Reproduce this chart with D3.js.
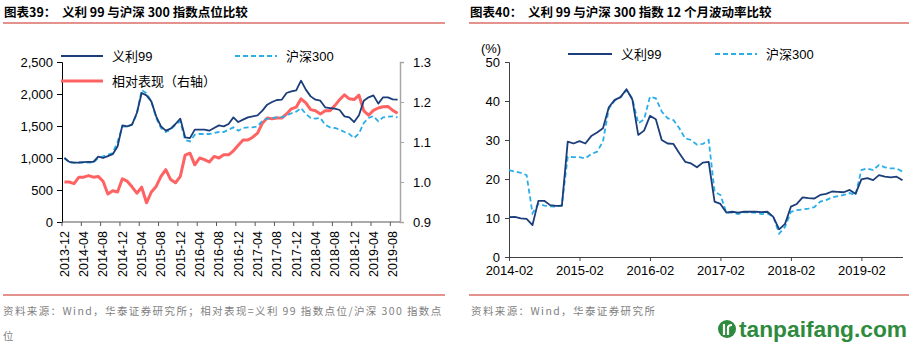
<!DOCTYPE html>
<html lang="zh">
<head>
<meta charset="utf-8">
<title>义利99与沪深300</title>
<style>
  body { margin: 0; background: #fff; }
  svg { display: block; }
  .num { font-family: "Liberation Sans", Arial, sans-serif; font-size: 13px; fill: #000; }
  .cjk { font-family: "Liberation Sans", "Noto Sans CJK SC", sans-serif; font-size: 13px; fill: #000; }
  .title { font-family: "Noto Sans CJK SC", sans-serif; font-size: 12.5px; font-weight: 700; fill: #000; }
  .note { font-family: "Noto Sans CJK SC", sans-serif; font-size: 10.5px; fill: #7f7f7f; letter-spacing: 1.4px; }
</style>
</head>
<body>
<svg id="chart" width="917" height="349"></svg>
<script src="https://d3js.org/d3.v7.min.js"></script>
<script>
// ---- chart 39: index levels, 2013-12 .. 2019-09 (monthly) ----
var levelMonths = d3.utcMonth.range(new Date(Date.UTC(2013, 11, 1)), new Date(Date.UTC(2019, 9, 1)))
  .map(d3.utcFormat("%Y-%m"));
var levelTicks = ["2013-12", "2014-04", "2014-08", "2014-12", "2015-04", "2015-08", "2015-12", "2016-04",
  "2016-08", "2016-12", "2017-04", "2017-08", "2017-12", "2018-04", "2018-08", "2018-12", "2019-04", "2019-08"];
var yili99 = [1000, 940, 927, 930, 935, 938, 938, 1020, 1000, 1030, 1060, 1180, 1510, 1495, 1521, 1703, 2016, 1979,
  1885, 1651, 1495, 1427, 1460, 1531, 1615, 1323, 1310, 1443, 1443, 1443, 1427, 1469, 1510, 1495, 1531, 1635,
  1562, 1599, 1635, 1651, 1667, 1740, 1833, 1875, 1906, 1911, 2016, 2042, 2057, 2208, 2068, 1963, 1911, 1896,
  1792, 1781, 1771, 1750, 1651, 1635, 1562, 1667, 1896, 1948, 1979, 1849, 1948, 1948, 1917, 1911];
var hs300 = [1000, 927, 927, 927, 927, 927, 927, 1000, 1026, 1052, 1078, 1250, 1490, 1490, 1521, 1688, 2063, 2010,
  1885, 1625, 1469, 1406, 1443, 1521, 1573, 1279, 1260, 1365, 1375, 1375, 1375, 1390, 1406, 1406, 1443, 1479,
  1427, 1469, 1479, 1479, 1495, 1583, 1615, 1625, 1635, 1635, 1667, 1698, 1724, 1781, 1688, 1625, 1615, 1625,
  1521, 1479, 1469, 1443, 1406, 1375, 1312, 1385, 1547, 1625, 1656, 1573, 1635, 1646, 1651, 1635];
var relPerf = [1.000, 1.000, 0.996, 1.012, 1.012, 1.016, 1.012, 1.014, 1.002, 0.970, 0.978, 0.975, 1.008, 1.002,
  0.988, 0.972, 0.987, 0.948, 0.975, 0.989, 1.014, 1.031, 1.006, 0.998, 1.014, 1.067, 1.072, 1.043, 1.060, 1.056,
  1.050, 1.064, 1.060, 1.068, 1.068, 1.078, 1.092, 1.105, 1.105, 1.112, 1.122, 1.147, 1.160, 1.158, 1.160, 1.160,
  1.170, 1.183, 1.187, 1.208, 1.198, 1.181, 1.178, 1.170, 1.178, 1.178, 1.191, 1.206, 1.218, 1.208, 1.206, 1.217,
  1.178, 1.167, 1.179, 1.185, 1.188, 1.189, 1.179, 1.172];
var leftTicks = [0, 500, 1000, 1500, 2000, 2500];
var rightTicks = [0.9, 1.0, 1.1, 1.2, 1.3];

// ---- chart 40: 12-month volatility, 2014-02 .. 2019-09 ----
var volMonths = d3.utcMonth.range(new Date(Date.UTC(2014, 1, 1)), new Date(Date.UTC(2019, 9, 1)))
  .map(d3.utcFormat("%Y-%m"));
var volTicks = ["2014-02", "2015-02", "2016-02", "2017-02", "2018-02", "2019-02"];
var volYili = [10.2, 10.3, 9.9, 9.8, 8.2, 14.4, 14.4, 13.3, 13.1, 13.1, 29.6, 29.1, 29.7, 29.1, 31.0, 31.9, 33.0,
  38.4, 40.3, 41.0, 43.0, 40.4, 31.3, 32.4, 36.2, 35.3, 30.0, 29.1, 29.0, 26.6, 24.4, 24.0, 23.0, 24.2, 24.4,
  14.2, 13.6, 11.4, 11.6, 11.4, 11.6, 11.6, 11.6, 11.5, 11.6, 10.3, 7.1, 8.5, 12.9, 13.6, 15.3, 15.1, 15.0,
  15.9, 16.2, 16.8, 16.7, 16.6, 17.2, 16.2, 19.9, 20.2, 19.7, 21.0, 20.6, 20.4, 20.6, 19.7];
var volHs300 = [22.3, 21.9, 21.6, 21.0, 11.2, 13.6, 13.2, 13.0, 12.9, 13.3, 25.7, 25.6, 25.6, 25.3, 26.4, 27.0,
  29.6, 38.1, 40.1, 41.0, 42.8, 40.7, 34.3, 35.3, 41.1, 40.7, 37.3, 35.6, 35.1, 33.0, 30.4, 30.0, 28.8, 29.0,
  30.0, 16.8, 15.9, 11.4, 11.4, 11.0, 11.5, 11.4, 11.4, 11.0, 11.2, 10.3, 6.0, 7.7, 11.6, 12.0, 12.2, 12.4,
  12.8, 14.2, 14.6, 15.3, 15.6, 15.9, 16.4, 15.9, 22.3, 22.7, 22.3, 23.6, 23.0, 22.7, 22.7, 21.9];
var volAxisTicks = [0, 10, 20, 30, 40, 50];

var NAVY = "#1b3d7a", SKY = "#2aaee8", CORAL = "#ff6262", RULE = "#c8261d";

var svg = d3.select("#chart");

// headings and red rules
svg.append("text").attr("class", "title").attr("x", 4).attr("y", 17)
  .text("图表39：\u00a0\u00a0义利 99 与沪深 300 指数点位比较");
svg.append("text").attr("class", "title").attr("x", 470).attr("y", 17)
  .text("图表40：\u00a0\u00a0义利 99 与沪深 300 指数 12 个月波动率比较");
[[3, 445, 23], [469, 909, 23], [3, 445, 295], [469, 909, 295]].forEach(function (r) {
  svg.append("line").attr("x1", r[0]).attr("x2", r[1]).attr("y1", r[2]).attr("y2", r[2])
    .attr("stroke", RULE).attr("stroke-width", 1.2);
});

// ================= left chart =================
var x1 = d3.scaleBand().domain(levelMonths).range([62, 400]);
var y1 = d3.scaleLinear().domain([0, 2500]).range([222, 62]);
var y1r = d3.scaleLinear().domain([0.9, 1.3]).range([222, 62]);
var cx = function (i) { return x1(levelMonths[i]) + x1.bandwidth() / 2; };

var g1 = svg.append("g");

g1.append("g")
  .attr("transform", "translate(62,0)")
  .call(d3.axisLeft(y1).tickValues(leftTicks).tickSize(5).tickPadding(4).tickFormat(d3.format(",")))
  .call(function (a) {
    a.select(".domain").attr("stroke", "#000");
    a.selectAll("line").attr("stroke", "#000");
    a.selectAll("text").attr("class", "num").attr("font-family", null).attr("font-size", null);
  });

g1.append("g")
  .attr("transform", "translate(400,0)")
  .call(d3.axisRight(y1r).tickValues(rightTicks).tickSize(4).tickPadding(9).tickFormat(d3.format(".1f")))
  .call(function (a) {
    a.select(".domain").attr("stroke", "#a6a6a6").attr("stroke-width", 1.5);
    a.selectAll("line").attr("stroke", "#a6a6a6");
    a.selectAll("text").attr("class", "num").attr("font-family", null).attr("font-size", null);
  });

// category axis: ticks at band edges, labels under band centres
var xa = g1.append("g");
xa.append("line").attr("x1", 62).attr("x2", 400).attr("y1", 222).attr("y2", 222)
  .attr("stroke", "#595959").attr("stroke-width", 1.2);
xa.selectAll(".tk").data(levelTicks).enter().append("line")
  .attr("x1", function (d) { return x1(d); }).attr("x2", function (d) { return x1(d); })
  .attr("y1", 222).attr("y2", 226).attr("stroke", "#595959");
xa.selectAll(".lb").data(levelTicks).enter().append("text")
  .attr("class", "num")
  .style("font-size", "12.5px")
  .attr("text-anchor", "end")
  .attr("dy", "0.35em")
  .attr("transform", function (d) { return "translate(" + (x1(d) + x1.bandwidth() / 2) + ",231) rotate(-90)"; })
  .text(function (d) { return d; });

var lineL = d3.line().x(function (d, i) { return cx(i); });

g1.append("path").datum(relPerf)
  .attr("fill", "none").attr("stroke", CORAL).attr("stroke-width", 3).attr("stroke-linejoin", "round")
  .attr("d", lineL.y(function (d) { return y1r(d); }));
g1.append("path").datum(hs300)
  .attr("fill", "none").attr("stroke", SKY).attr("stroke-width", 1.8).attr("stroke-dasharray", "5,3")
  .attr("d", lineL.y(function (d) { return y1(d); }));
g1.append("path").datum(yili99)
  .attr("fill", "none").attr("stroke", NAVY).attr("stroke-width", 1.8).attr("stroke-linejoin", "round")
  .attr("d", lineL.y(function (d) { return y1(d); }));

// legend
function legendItem(g, x, y, len, color, width, dash, label) {
  g.append("line").attr("x1", x).attr("x2", x + len).attr("y1", y).attr("y2", y)
    .attr("stroke", color).attr("stroke-width", width).attr("stroke-dasharray", dash);
  g.append("text").attr("class", "cjk").attr("x", x + len + 9).attr("y", y).attr("dy", "0.35em").text(label);
}
legendItem(g1, 61, 56, 42, NAVY, 1.8, null, "义利99");
legendItem(g1, 235, 56, 42, SKY, 1.8, "5,3", "沪深300");
legendItem(g1, 61, 81, 42, CORAL, 3, null, "相对表现（右轴）");

// ================= right chart =================
var x2 = d3.scalePoint().domain(volMonths).range([509, 902.5]);
var y2 = d3.scaleLinear().domain([0, 50]).range([257, 62]);
var g2 = svg.append("g");

g2.append("g")
  .attr("transform", "translate(509,0)")
  .call(d3.axisLeft(y2).tickValues(volAxisTicks).tickSize(4).tickPadding(5))
  .call(function (a) {
    a.select(".domain").attr("stroke", "#404040");
    a.selectAll("line").attr("stroke", "#404040");
    a.selectAll("text").attr("class", "num").attr("font-family", null).attr("font-size", null);
  });

g2.append("g")
  .attr("transform", "translate(0,257)")
  .call(d3.axisBottom(x2).tickValues(volTicks).tickSize(4).tickPadding(5).tickSizeOuter(0))
  .call(function (a) {
    a.select(".domain").attr("stroke", "#404040");
    a.selectAll("line").attr("stroke", "#404040");
    a.selectAll("text").attr("class", "num").attr("font-family", null).attr("font-size", null);
  });

svg.append("text").attr("class", "num").attr("x", 491).attr("y", 48).attr("dy", "0.35em")
  .attr("text-anchor", "middle").text("(%)");

var lineR = d3.line().x(function (d, i) { return x2(volMonths[i]); }).y(function (d) { return y2(d); });
g2.append("path").datum(volHs300)
  .attr("fill", "none").attr("stroke", SKY).attr("stroke-width", 1.8).attr("stroke-dasharray", "5,3")
  .attr("d", lineR);
g2.append("path").datum(volYili)
  .attr("fill", "none").attr("stroke", NAVY).attr("stroke-width", 1.8).attr("stroke-linejoin", "round")
  .attr("d", lineR);

legendItem(g2, 568, 54, 44, NAVY, 1.8, null, "义利99");
legendItem(g2, 715, 54, 42, SKY, 1.8, "5,3", "沪深300");

// ---- source notes ----
svg.append("text").attr("class", "note").attr("x", 3).attr("y", 315)
  .text("资料来源：Wind，华泰证券研究所；相对表现=义利 99 指数点位/沪深 300 指数点");
svg.append("text").attr("class", "note").attr("x", 3).attr("y", 340).text("位");
svg.append("text").attr("class", "note").attr("x", 471).attr("y", 315)
  .text("资料来源：Wind，华泰证券研究所");

// site mark
var wm = svg.append("g").attr("transform", "translate(727,329)");
wm.append("circle").attr("r", 9).attr("fill", "#2e8b3e");
wm.append("path").attr("d", "M-3,-5 L-3,6 M1,6 L1,-1 Q1,-4 5,-4").attr("stroke", "#fff")
  .attr("stroke-width", 2.2).attr("fill", "none");
wm.append("text").attr("x", 12).attr("y", 0).attr("dy", "0.35em")
  .attr("font-family", "'Liberation Sans', Arial, sans-serif").attr("font-weight", 700)
  .attr("font-size", "22px").attr("fill", "#2e8b3e")
  .attr("textLength", 168).attr("lengthAdjust", "spacingAndGlyphs")
  .text("tanpaifang.com");
</script>
</body>
</html>
